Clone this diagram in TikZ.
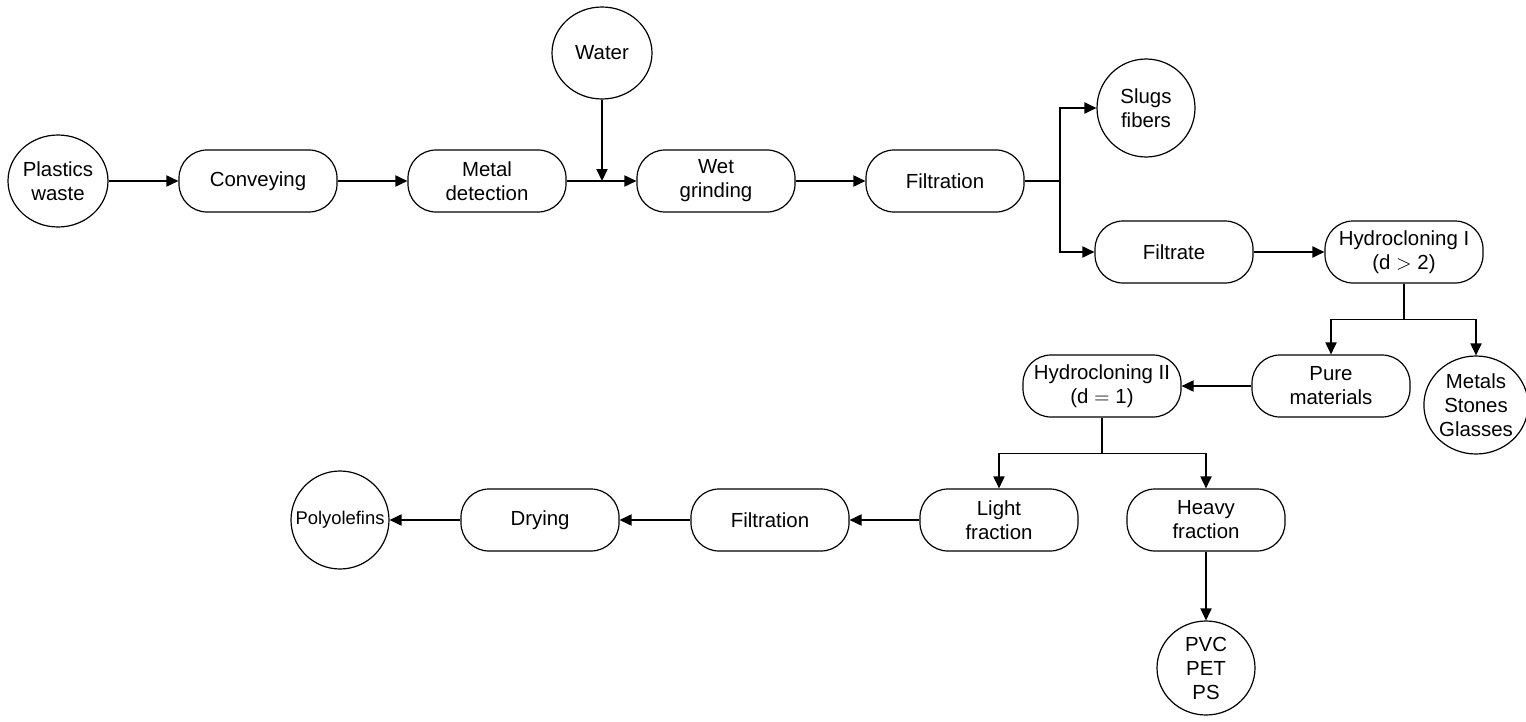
\documentclass[tikz,border=0pt]{standalone}
\usepackage{fontspec}
\setmainfont{Liberation Sans}
\usetikzlibrary{positioning,arrows.meta,shapes.geometric,calc}

\begin{document}
\begin{tikzpicture}[
  x=0.5pt,y=-0.5pt,
  proc/.style={rectangle,draw,line width=0.6pt,rounded corners=14pt,minimum width=79pt,minimum height=31pt,inner sep=1pt,align=center,font=\fontsize{10.2}{12}\selectfont},
  feed/.style={ellipse,draw,line width=0.6pt,minimum width=50pt,minimum height=46pt,inner sep=0pt,align=center,font=\fontsize{10.2}{12}\selectfont},
  prod/.style={feed,minimum width=49pt,minimum height=49pt},
  flow/.style={-{Triangle[length=6pt,width=5.6pt]},line width=0.65pt},
  splitline/.style={line width=0.65pt},
]
\useasboundingbox (0,0) rectangle (1526,722);

% Feed line
\node[feed] (plastics) at (58,181) {Plastics\\waste};
\node[proc] (conv) at (258,181) {Conveying};
\node[proc] (metal) at (487,181) {Metal\\detection};
\node[feed] (water) at (602,53) {Water};
\node[proc] (wet) at (716,181) {Wet\\grinding};
\node[proc] (filt1) at (945,181) {Filtration};
\draw[flow] (plastics) -- (conv);
\draw[flow] (conv) -- (metal);
\draw[flow] (metal) -- (wet);
\draw[flow] (water) -- (water |- metal.east);
\draw[flow] (wet) -- (filt1);

% Filtration split
\node[prod] (slugs) at (1146,108) {Slugs\\fibers};
\node[proc] (filtrate) at (1174,252) {Filtrate};
\node[proc] (hyd1) at (1404,252) {Hydrocloning I\\(d $>$ 2)};
\coordinate (fork1) at (1060,181);
\draw[splitline] (filt1) -- (fork1);
\draw[flow] (fork1) |- (slugs);
\draw[flow] (fork1) |- (filtrate);
\draw[flow] (filtrate) -- (hyd1);

% Hydrocloning I
\node[proc] (pure) at (1331,386) {Pure\\materials};
\node[prod] (metals) at (1476,405) {Metals\\Stones\\Glasses};
\node[proc] (hyd2) at (1102,386) {Hydrocloning II\\(d $=$ 1)};
\coordinate (fork2) at ($(hyd1.south)+(0,36)$);
\draw[splitline] (hyd1) -- (fork2);
\draw[flow] (fork2) -| (pure);
\draw[flow] (fork2) -| (metals);
\draw[flow] (pure) -- (hyd2);

% Hydrocloning II
\node[proc] (light) at (999,520) {Light\\fraction};
\node[proc] (heavy) at (1206,520) {Heavy\\fraction};
\node[prod,minimum height=47pt] (pvc) at (1206,668) {PVC\\PET\\PS};
\coordinate (fork3) at ($(hyd2.south)+(0,36)$);
\draw[splitline] (hyd2) -- (fork3);
\draw[flow] (fork3) -| (light);
\draw[flow] (fork3) -| (heavy);
\draw[flow] (heavy) -- (pvc);

% Light fraction line
\node[proc] (filt2) at (770,520) {Filtration};
\node[proc] (drying) at (540,520) {Drying};
\node[prod,font=\fontsize{9.2}{11}\selectfont] (poly) at (340,520) {\makebox[0pt]{Polyolefins}};
\draw[flow] (light) -- (filt2);
\draw[flow] (filt2) -- (drying);
\draw[flow] (drying) -- (poly);
\end{tikzpicture}
\end{document}
